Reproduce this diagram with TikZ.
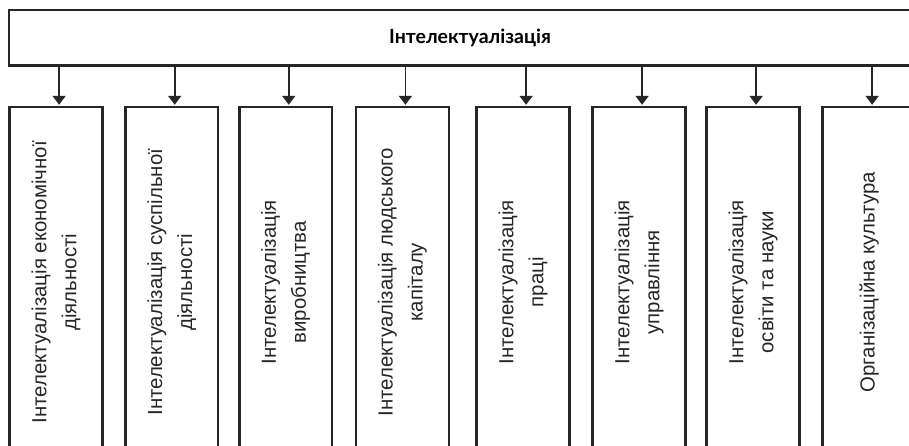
\documentclass[tikz,border=0pt]{standalone}
\usepackage{fontspec}
\setmainfont{Liberation Sans}
\newfontfamily\titlefont{Lato}
\usetikzlibrary{arrows.meta}
\begin{document}
\begin{tikzpicture}[x=1pt,y=-1pt,
  boxline/.style={draw=black!85, line width=2.5pt},
  topbox/.style={boxline, rectangle, inner sep=0pt, minimum width=922pt, minimum height=55.7pt,
     font=\titlefont\bfseries\fontsize{19.5}{24}\selectfont},
  colbox/.style={boxline, rectangle, inner sep=0pt, minimum width=92.8pt, minimum height=350pt, anchor=north},
  coltext/.style={rotate=90, align=center, inner sep=0pt, font=\fontsize{20.4}{30}\selectfont, text=black!85},
  arr/.style={draw=black!85, line width=1.8pt, -{Triangle[width=13pt,length=9pt]}}]
\useasboundingbox (0,0) rectangle (909,446);
\clip (0,0) rectangle (909,446);
\node[topbox] (top) at (470,37.85) {Інтелектуалізація};
\foreach \i/\xl in {1/9.7,2/125.3,3/239.3,4/356,5/476.7,6/592.7,7/706.7,8/822.7}{
  \node[colbox] (b\i) at (\xl+46.4,106) {};
}
\node[coltext] (t1) at (b1.center) {Інтелектуалізація економічної\\діяльності};
\node[coltext] (t2) at (b2.center) {Інтелектуалізація суспільної\\діяльності};
\node[coltext] (t3) at (b3.center) {Інтелектуалізація\\виробництва};
\node[coltext] (t4) at (b4.center) {Інтелектуалізація людського\\капіталу};
\node[coltext] (t5) at (b5.center) {Інтелектуалізація\\праці};
\node[coltext] (t6) at (b6.center) {Інтелектуалізація\\управління};
\node[coltext] (t7) at (b7.center) {Інтелектуалізація\\освіти та науки};
\node[coltext] (t8) at (b8.center) {Організаційна культура};
\foreach \i in {1,...,8}{
  \draw[arr] ([xshift=3pt]top.south -| b\i.north) -- ([xshift=3pt,yshift=1.2pt]b\i.north);
}
\end{tikzpicture}
\end{document}
